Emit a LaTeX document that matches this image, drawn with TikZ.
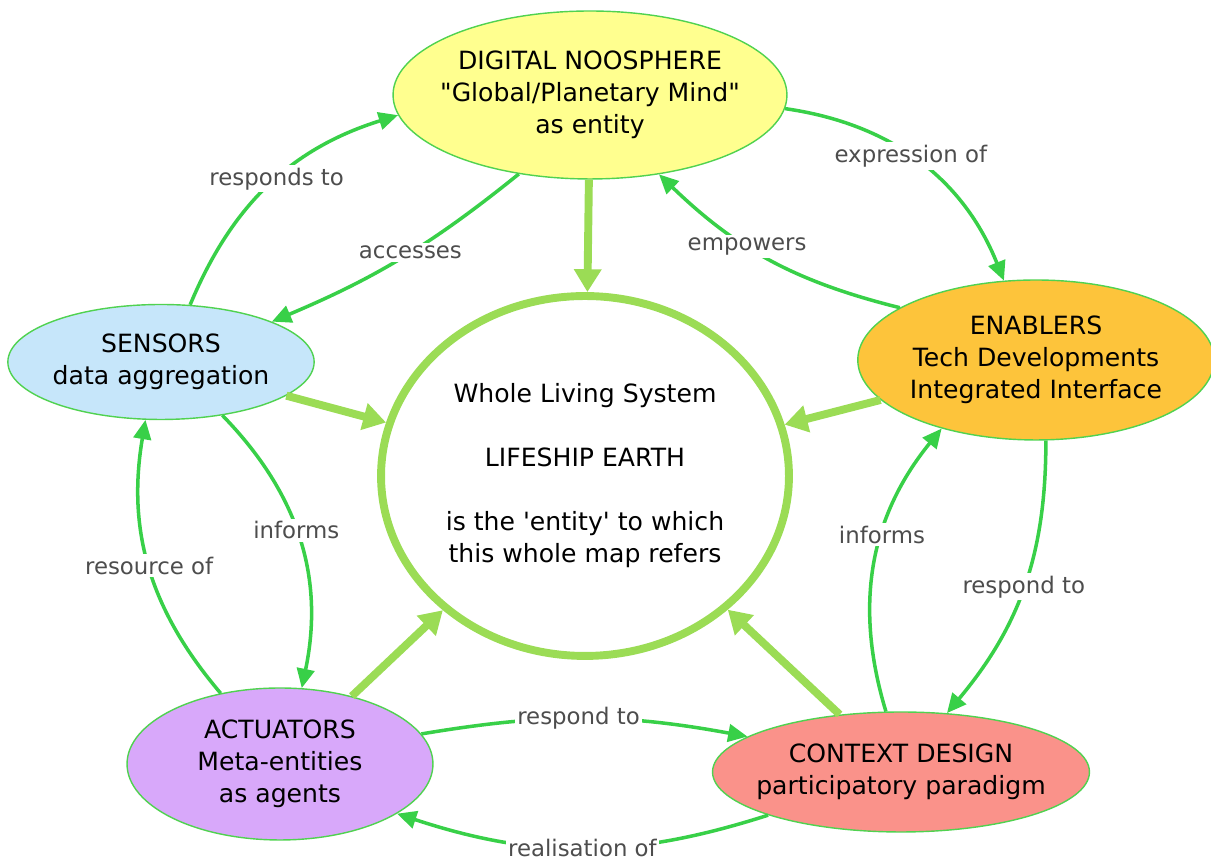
\documentclass[tikz,border=0pt]{standalone}
\usepackage{fontspec}
\setmainfont{DejaVu Sans}[Ligatures=TeXOff]
\usetikzlibrary{shapes.geometric, arrows.meta}

\definecolor{ringgreen}{HTML}{9BDC55}
\definecolor{linkgreen}{HTML}{38D048}
\definecolor{rimgreen}{HTML}{50D250}
\definecolor{labelgray}{HTML}{4D4D4D}
\definecolor{noosfill}{HTML}{FFFF8F}
\definecolor{sensfill}{HTML}{C6E6FA}
\definecolor{enabfill}{HTML}{FDC43B}
\definecolor{actfill}{HTML}{D8A8FA}
\definecolor{ctxfill}{HTML}{FA928A}

\begin{document}
\begin{tikzpicture}[x=0.02cm, y=0.02cm,
        main/.style = {draw=rimgreen, line width=0.8pt, ellipse, inner sep=0pt, align=center, font=\fontsize{14.3}{18.2}\selectfont},
        ar/.style = {linkgreen, line width=2pt, -{Triangle[length=11pt, width=10pt]}},
        big/.style = {ringgreen, line width=4.5pt, -{Triangle[length=13pt, width=15pt]}},
        lbl/.style = {fill=white, text=labelgray, inner sep=1.5pt, font=\fontsize{13}{15}\selectfont}]
        \useasboundingbox (0,0) rectangle (1211,864);

        \node[main, fill=noosfill, inner xsep=-0.3cm, minimum width=7.88cm, minimum height=3.36cm] (noos) at (590,769) {DIGITAL NOOSPHERE\\"Global/Planetary Mind"\\as entity};
        \node[main, fill=sensfill, minimum width=6.04cm, minimum height=2.3cm] (sensors) at (161,502) {SENSORS\\data aggregation};
        \node[main, fill=enabfill, minimum width=7.0cm, minimum height=3.2cm] (enablers) at (1036,504) {ENABLERS\\Tech Developments\\Integrated Interface};
        \node[main, fill=actfill, minimum width=6.12cm, minimum height=3.04cm] (actuators) at (280,100) {ACTUATORS\\Meta-entities\\as agents};
        \node[main, fill=ctxfill, inner xsep=-0.3cm, minimum width=7.54cm, minimum height=2.4cm] (context) at (901,92) {CONTEXT DESIGN\\participatory paradigm};

        \node[main, draw=ringgreen, line width=4.5pt, minimum width=8.16cm, minimum height=7.2cm] (earth) at (585,388)
            {Whole Living System\\[18.2pt]LIFESHIP EARTH\\[18.2pt]is the 'entity' to which\\this whole map refers};

        % everything points at the whole system
        \draw[big] (noos) -- (earth);
        \draw[big] (sensors) -- (earth);
        \draw[big] (enablers) -- (earth);
        \draw[big] (actuators) -- (earth);
        \draw[big] (context) -- (earth);

        \draw[ar] (sensors.63) to[bend left=25] node[lbl, pos=0.53] {responds to} (noos.186);
        \draw[ar] (noos.228) to[bend left=8] node[lbl, pos=0.46] {accesses} (sensors.20);
        \draw[ar] (noos.356) to[bend left=30] node[lbl, pos=0.46] {expression of} (enablers.112);
        \draw[ar] (enablers.159) to[bend left=15] node[lbl, pos=0.6] {empowers} (noos.311);
        \draw[ar] (enablers.277) to[bend left=20] node[lbl] {respond to} (context.52);
        \draw[ar] (context.104) to[bend left=28] node[lbl, pos=0.6] {informs} (enablers.216);
        \draw[ar] (actuators.12) to[bend left=10] node[lbl, pos=0.48] {respond to} (context.167);
        \draw[ar] (context.198) to[bend left=18] node[lbl] {realisation of} (actuators.337);
        \draw[ar] (actuators.130) to[bend left=25] node[lbl] {resource of} (sensors.255);
        \draw[ar] (sensors.319) to[bend left=28] node[lbl, pos=0.46] {informs} (actuators.74);
    \end{tikzpicture}
\end{document}
